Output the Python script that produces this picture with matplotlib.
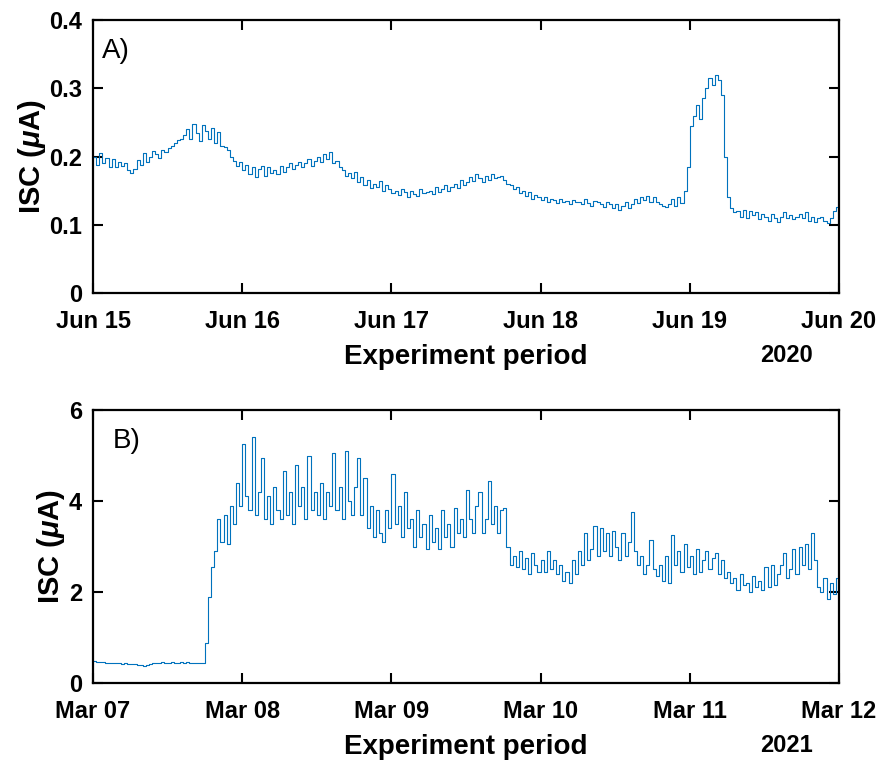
import numpy as np
import matplotlib
matplotlib.use("Agg")
import matplotlib.pyplot as plt
import matplotlib.dates as mdates

plt.rcParams['font.family'] = ['Liberation Sans', 'DejaVu Sans']
plt.rcParams['mathtext.fontset'] = 'custom'
plt.rcParams['mathtext.it'] = 'Liberation Sans:italic:bold'
plt.rcParams['mathtext.rm'] = 'Liberation Sans:bold'

# half-hourly readings, panel A (Jun 15 - Jun 20, 2020), one day per block
start_a = np.datetime64('2020-06-15T00:00')
isc_a = [
    # Jun 15
    0.200, 0.188, 0.205, 0.190, 0.198, 0.185, 0.196, 0.184, 0.192, 0.186, 0.190, 0.180,
    0.176, 0.182, 0.195, 0.188, 0.205, 0.192, 0.200, 0.208, 0.204, 0.198, 0.210, 0.206,
    0.212, 0.216, 0.220, 0.224, 0.226, 0.232, 0.240, 0.226, 0.248, 0.235, 0.222, 0.246,
    0.238, 0.226, 0.242, 0.220, 0.236, 0.216, 0.214, 0.210, 0.200, 0.194, 0.186, 0.192,
    # Jun 16
    0.180, 0.188, 0.174, 0.185, 0.170, 0.182, 0.186, 0.172, 0.184, 0.176, 0.180, 0.174,
    0.186, 0.178, 0.184, 0.190, 0.182, 0.188, 0.192, 0.184, 0.190, 0.196, 0.186, 0.194,
    0.200, 0.192, 0.204, 0.196, 0.206, 0.190, 0.194, 0.184, 0.180, 0.172, 0.176, 0.168,
    0.178, 0.162, 0.170, 0.158, 0.165, 0.154, 0.160, 0.156, 0.164, 0.150, 0.158, 0.152,
    # Jun 17
    0.146, 0.150, 0.144, 0.152, 0.148, 0.140, 0.150, 0.145, 0.142, 0.152, 0.146, 0.148,
    0.150, 0.145, 0.155, 0.148, 0.152, 0.158, 0.150, 0.156, 0.160, 0.154, 0.165, 0.158,
    0.162, 0.170, 0.164, 0.175, 0.168, 0.162, 0.172, 0.166, 0.175, 0.168, 0.170, 0.172,
    0.165, 0.160, 0.158, 0.152, 0.155, 0.146, 0.150, 0.142, 0.148, 0.138, 0.144, 0.140,
    # Jun 18
    0.136, 0.140, 0.134, 0.138, 0.136, 0.132, 0.138, 0.134, 0.135, 0.131, 0.136, 0.133,
    0.134, 0.130, 0.137, 0.132, 0.128, 0.135, 0.134, 0.130, 0.126, 0.133, 0.130, 0.124,
    0.130, 0.122, 0.128, 0.134, 0.124, 0.130, 0.138, 0.132, 0.140, 0.136, 0.142, 0.134,
    0.140, 0.133, 0.130, 0.128, 0.126, 0.130, 0.138, 0.128, 0.140, 0.132, 0.150, 0.185,
    # Jun 19
    0.245, 0.260, 0.275, 0.255, 0.285, 0.300, 0.315, 0.305, 0.320, 0.312, 0.290, 0.200,
    0.140, 0.125, 0.118, 0.120, 0.112, 0.122, 0.110, 0.120, 0.114, 0.118, 0.108, 0.116,
    0.112, 0.106, 0.116, 0.110, 0.104, 0.112, 0.118, 0.110, 0.114, 0.108, 0.112, 0.116,
    0.110, 0.118, 0.106, 0.112, 0.104, 0.110, 0.112, 0.106, 0.102, 0.110, 0.120, 0.126,
]

# half-hourly readings, panel B (Mar 07 - Mar 12, 2021)
start_b = np.datetime64('2021-03-07T00:00')
isc_b = [
    # Mar 07
    0.48, 0.47, 0.46, 0.47, 0.45, 0.44, 0.45, 0.43, 0.44, 0.42, 0.43, 0.42,
    0.41, 0.42, 0.40, 0.39, 0.38, 0.40, 0.42, 0.44, 0.45, 0.44, 0.46, 0.45,
    0.44, 0.46, 0.45, 0.43, 0.47, 0.44, 0.46, 0.45, 0.43, 0.44, 0.45, 0.43,
    0.87, 1.90, 2.55, 2.90, 3.60, 3.10, 3.70, 3.05, 3.90, 3.50, 4.40, 3.90,
    # Mar 08
    5.25, 4.10, 3.80, 5.40, 3.70, 4.20, 4.95, 3.60, 4.10, 3.50, 4.30, 3.80,
    3.60, 4.65, 3.70, 4.20, 3.50, 4.80, 3.90, 4.30, 3.60, 5.00, 3.80, 4.20,
    3.70, 4.40, 3.60, 4.20, 3.90, 5.05, 3.80, 4.30, 3.60, 5.10, 4.00, 3.70,
    4.30, 4.95, 3.70, 4.50, 3.40, 3.90, 3.20, 3.80, 3.30, 3.10, 3.80, 3.40,
    # Mar 09
    4.60, 3.50, 3.90, 3.20, 4.20, 3.40, 3.60, 3.00, 3.80, 3.20, 3.50, 2.95,
    3.70, 3.10, 3.40, 2.95, 3.80, 3.20, 3.50, 3.00, 3.85, 3.30, 3.60, 3.20,
    4.25, 3.60, 3.30, 3.90, 4.20, 3.30, 3.60, 4.45, 3.50, 3.90, 3.30, 3.80,
    3.85, 3.00, 2.60, 2.80, 2.55, 2.90, 2.50, 2.75, 2.40, 2.85, 2.60, 2.45,
    # Mar 10
    2.70, 2.45, 2.90, 2.50, 2.70, 2.40, 2.60, 2.25, 2.45, 2.20, 2.70, 2.40,
    2.90, 2.60, 3.30, 2.70, 2.95, 3.45, 2.80, 3.40, 2.90, 3.30, 2.80, 3.35,
    3.00, 2.70, 3.30, 2.80, 3.10, 3.75, 2.90, 2.60, 2.80, 2.40, 2.60, 3.15,
    2.50, 2.35, 2.60, 2.25, 2.80, 2.20, 3.25, 2.60, 2.90, 2.45, 3.05, 2.55,
    # Mar 11
    2.80, 2.40, 2.95, 2.45, 2.70, 2.90, 2.50, 2.75, 2.85, 2.40, 2.70, 2.30,
    2.45, 2.20, 2.30, 2.05, 2.40, 2.15, 2.20, 2.00, 2.35, 2.10, 2.25, 2.05,
    2.55, 2.10, 2.60, 2.15, 2.40, 2.60, 2.85, 2.30, 2.50, 2.95, 2.40, 3.00,
    2.60, 3.05, 2.50, 3.30, 2.70, 2.10, 2.00, 2.30, 1.85, 2.20, 1.95, 2.30,
]

yticks_a = [0, 0.1, 0.2, 0.3, 0.4]
yticklabels_a = ['0', '0.1', '0.2', '0.3', '0.4']
yticks_b = [0, 2, 4, 6]
yticklabels_b = ['0', '2', '4', '6']

LINE = '#0072BD'
W, H = 884, 763


def panel(ax, start, vals, yticks, yticklabels, tag, tag_xy, year):
    t = start + (np.arange(len(vals) + 1) * 30).astype('timedelta64[m]')
    y = list(vals) + [vals[-1]]
    ax.step(t.astype(object), y, where='post', color=LINE, lw=0.8)
    ax.set_xlim(t[0].astype(object), t[-1].astype(object))
    ax.set_ylim(yticks[0], yticks[-1])
    ax.set_yticks(yticks)
    ax.set_yticklabels(yticklabels)
    ax.xaxis.set_major_locator(mdates.DayLocator())
    ax.xaxis.set_major_formatter(mdates.DateFormatter('%b %d'))
    ax.tick_params(direction='in', length=7, width=1.5, top=True, right=True,
                   labelsize=17)
    ax.tick_params(axis='x', pad=12)
    ax.tick_params(axis='y', pad=8)
    for lab in ax.get_xticklabels() + ax.get_yticklabels():
        lab.set_fontweight('bold')
    for s in ax.spines.values():
        s.set_linewidth(1.6)
    ax.set_ylabel(r'ISC ($\mu$A)', fontsize=21, fontweight='bold', labelpad=1)
    ax.set_xlabel('Experiment period', fontsize=20, fontweight='bold', labelpad=8)
    ax.text(tag_xy[0], tag_xy[1], tag, transform=ax.transAxes, fontsize=20,
            va='top', ha='left')
    ax.text(0.965, -0.185, year, transform=ax.transAxes, fontsize=17, fontweight='bold',
            va='top', ha='right')


fig = plt.figure(figsize=(W / 100, H / 100), dpi=100)
ax_a = fig.add_axes([93 / W, 1 - 293 / H, 746 / W, 273 / H])
ax_b = fig.add_axes([93 / W, 1 - 683 / H, 746 / W, 273 / H])

panel(ax_a, start_a, isc_a, yticks_a, yticklabels_a, 'A)', (0.012, 0.935), '2020')
panel(ax_b, start_b, isc_b, yticks_b, yticklabels_b, 'B)', (0.027, 0.935), '2021')

fig.savefig('out.png', dpi=100)
